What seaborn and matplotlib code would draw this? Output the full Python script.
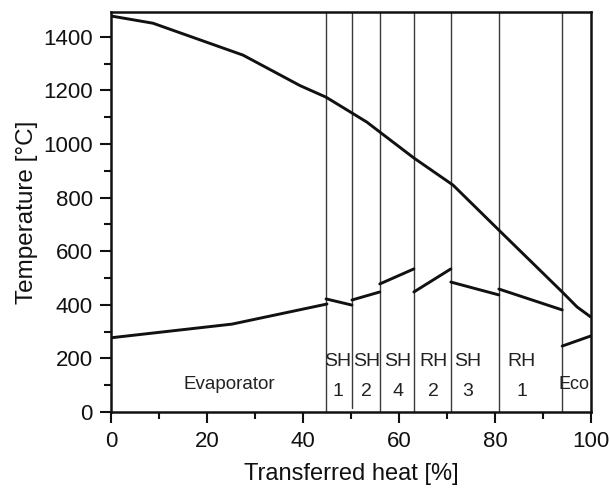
import matplotlib
matplotlib.use("Agg")
import matplotlib.pyplot as plt
import seaborn as sns
import pandas as pd
from matplotlib.ticker import MultipleLocator

# ---- data ----
gas_x = [0, 8.75, 27.5, 39.4, 44.8, 50.2, 53.3, 56.0, 63.1, 71.25, 80.8, 94.0, 97.1, 100]
gas_t = [1478, 1451, 1332, 1218, 1175, 1116, 1082, 1045, 948, 847, 679, 448, 392, 354]

evap_x = [0, 25.2, 45.0]
evap_t = [277, 328, 403]
sh1_x = [44.8, 50.2]
sh1_t = [422, 399]
sh2_x = [50.2, 56.0]
sh2_t = [418, 448]
sh4_x = [56.0, 63.1]
sh4_t = [478, 534]
rh2_x = [63.1, 70.8]
rh2_t = [448, 534]
sh3_x = [70.8, 80.8]
sh3_t = [485, 437]
rh1_x = [80.8, 94.0]
rh1_t = [459, 381]
eco_x = [94.0, 100]
eco_t = [246, 284]

boundaries = [44.8, 50.2, 56.0, 63.1, 70.8, 80.8, 94.0]

sec_top = ["SH", "SH", "SH", "RH", "SH", "RH"]
sec_num = ["1", "2", "4", "2", "3", "1"]
sec_x = [47.3, 53.3, 59.8, 67.1, 74.4, 85.6]

x_ticks = [0, 20, 40, 60, 80, 100]
y_ticks = [0, 200, 400, 600, 800, 1000, 1200, 1400]

# ---- style ----
sns.set_theme(style="ticks")
plt.rcParams['font.family'] = ['Liberation Sans', 'DejaVu Sans']

fig = plt.figure(figsize=(6.10, 4.95), dpi=100)
ax = fig.add_axes([111/610, 1 - 412/495, (591-111)/610, (412-11.7)/495])

gas_df = pd.DataFrame({"x": gas_x, "t": gas_t})
sns.lineplot(data=gas_df, x="x", y="t", color="#111111", lw=2.1, ax=ax, estimator=None, sort=False)

segments = [(evap_x, evap_t), (sh1_x, sh1_t), (sh2_x, sh2_t), (sh4_x, sh4_t),
            (rh2_x, rh2_t), (sh3_x, sh3_t), (rh1_x, rh1_t), (eco_x, eco_t)]
for sx, st in segments:
    d = pd.DataFrame({"x": sx, "t": st})
    sns.lineplot(data=d, x="x", y="t", color="#111111", lw=2.1, ax=ax, estimator=None, sort=False)

for b in boundaries:
    ymin = 15 if abs(b - 50.2) < 0.01 else 0
    ax.plot([b, b], [ymin, 1500], color="#3a3a3a", lw=1.0, zorder=1)

ax.set_xlim(0, 100)
ax.set_ylim(0, 1494)
ax.set_xticks(x_ticks)
ax.set_yticks(y_ticks)
ax.xaxis.set_minor_locator(MultipleLocator(10))
ax.yaxis.set_minor_locator(MultipleLocator(100))
ax.tick_params(axis='both', which='major', direction='out', length=8, width=1.5,
               labelsize=16, colors='#111111')
ax.tick_params(axis='y', which='major', pad=5)
ax.tick_params(axis='x', which='major', pad=6)
ax.tick_params(axis='both', which='minor', direction='out', length=5, width=1.5, colors='#111111')
for s in ax.spines.values():
    s.set_visible(True)
    s.set_linewidth(1.8)
    s.set_color('#111111')

ax.set_xlabel("Transferred heat [%]", fontsize=17, color='#111111')
ax.set_ylabel("Temperature [°C]", fontsize=17.5, color='#111111')
ax.xaxis.label.set_va('center')
ax.yaxis.label.set_va('center')
ax.xaxis.set_label_coords(0.5, (412 - 474) / 400.3)
ax.yaxis.set_label_coords((27 - 111) / 480, 0.5)

for t, n, x in zip(sec_top, sec_num, sec_x):
    ax.text(x, 187, t, ha='center', va='center', fontsize=14, color='#222222')
    ax.text(x, 75, n, ha='center', va='center', fontsize=14, color='#222222')
ax.text(24.6, 101, "Evaporator", ha='center', va='center', fontsize=13.5, color='#222222')
ax.text(96.5, 104, "Eco", ha='center', va='center', fontsize=13, color='#222222')

fig.savefig("out.png", dpi=100)
